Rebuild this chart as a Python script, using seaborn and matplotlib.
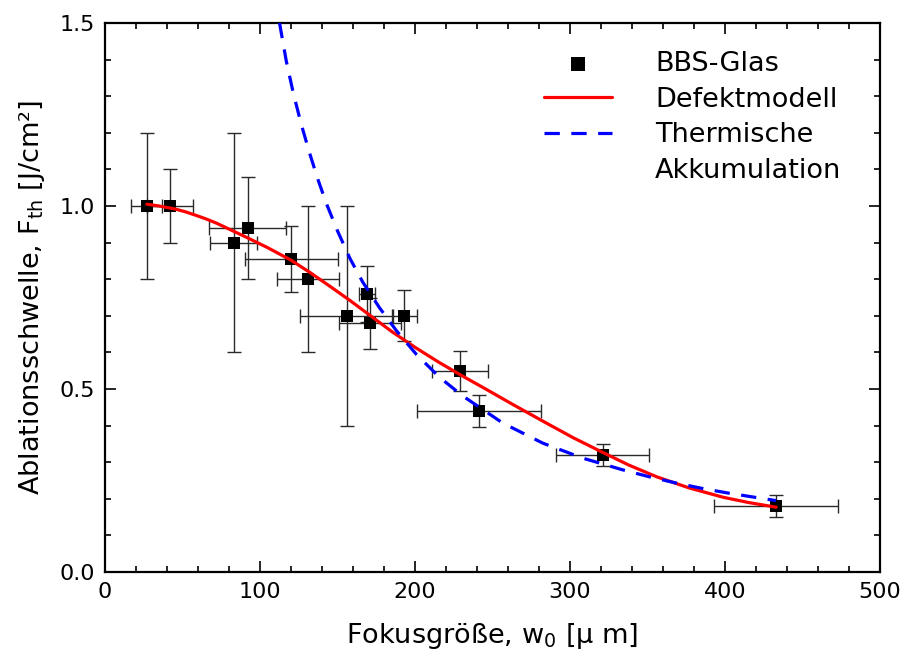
import matplotlib
matplotlib.use("Agg")
import matplotlib.pyplot as plt
from matplotlib.lines import Line2D
import seaborn as sns
import pandas as pd

# Measured ablation thresholds of BBS glass vs. focus radius
w0 = [27, 42, 83, 92, 120, 131, 156, 169, 171, 193, 229, 241, 321, 433]
fth = [1.0, 1.0, 0.90, 0.94, 0.855, 0.80, 0.70, 0.76, 0.68, 0.70, 0.55, 0.44, 0.32, 0.18]
w0_err = [10, 15, 15, 25, 30, 20, 30, 5, 20, 8, 18, 40, 30, 40]
fth_err = [0.2, 0.1, 0.3, 0.14, 0.09, 0.2, 0.3, 0.076, 0.07, 0.07, 0.055, 0.044, 0.03, 0.03]

# Defect model curve
defekt_w = [27, 35, 45, 52, 59, 65, 72, 80, 91, 105, 120, 132, 145, 158, 171, 185,
            200, 215, 230, 246, 263, 283, 302, 321, 338, 356, 377, 399, 415, 433]
defekt_f = [1.005, 1.0, 0.992, 0.984, 0.974, 0.965, 0.953, 0.937, 0.915, 0.886,
            0.852, 0.819, 0.781, 0.742, 0.701, 0.657, 0.614, 0.574, 0.537, 0.499,
            0.458, 0.411, 0.367, 0.327, 0.292, 0.260, 0.2295, 0.204, 0.190, 0.177]

# Thermal accumulation curve
therm_w = [112.6, 117, 121.4, 126.5, 132.1, 137.5, 142.9, 150, 158, 166.3, 177.1,
           187.9, 200.8, 215.8, 230.8, 256.6, 282.5, 308.3, 334.1, 351.3, 368.5,
           385.7, 402.9, 433]
therm_f = [1.5, 1.395, 1.31, 1.225, 1.143, 1.071, 1.006, 0.932, 0.857, 0.792, 0.722,
           0.660, 0.595, 0.532, 0.481, 0.407, 0.352, 0.311, 0.279, 0.260, 0.243,
           0.228, 0.215, 0.195]

x_ticks = [0, 100, 200, 300, 400, 500]
y_ticks = [0.0, 0.5, 1.0, 1.5]
y_tick_labels = ["0.0", "0.5", "1.0", "1.5"]

sns.set_theme(style="ticks")
plt.rcParams["font.family"] = ["DejaVu Sans"]
plt.rcParams["mathtext.default"] = "regular"
plt.rcParams["text.color"] = "black"
plt.rcParams["axes.labelcolor"] = "black"

fig = plt.figure(figsize=(9.06, 6.64), dpi=100)
ax = fig.add_axes([105 / 906, 1 - 572 / 664, 775 / 906, 549 / 664])

pts = pd.DataFrame({"w0": w0, "fth": fth})
defekt = pd.DataFrame({"w0": defekt_w, "fth": defekt_f})
therm = pd.DataFrame({"w0": therm_w, "fth": therm_f})

ax.errorbar(w0, fth, xerr=w0_err, yerr=fth_err, fmt="none", ecolor="#2a2a2a",
            elinewidth=1.0, capsize=5, capthick=1.0, zorder=2)
sns.scatterplot(data=pts, x="w0", y="fth", marker="s", s=66, color="black",
                edgecolor="black", linewidth=0, ax=ax, zorder=3, label="BBS-Glas")
sns.lineplot(data=defekt, x="w0", y="fth", sort=False, estimator=None,
             color="#ff0000", linewidth=2.3, ax=ax, zorder=4, label="Defektmodell")
sns.lineplot(data=therm, x="w0", y="fth", sort=False, estimator=None,
             color="#0000ff", linewidth=2.3, dashes=False, ax=ax, zorder=4,
             label="Thermische")
ax.lines[-1].set_dashes([4.8, 3.6])

ax.set_xlim(0, 500)
ax.set_ylim(0, 1.5)
ax.set_xticks(x_ticks)
ax.set_yticks(y_ticks)
ax.set_yticklabels(y_tick_labels)
ax.set_xticks(range(0, 501, 20), minor=True)
ax.set_yticks([i / 10 for i in range(16)], minor=True)
ax.tick_params(which="both", direction="in", top=True, right=True,
               labelsize=16, colors="black", width=1.2)
ax.tick_params(which="major", length=8, pad=7)
ax.tick_params(which="minor", length=4.3)
for sp in ax.spines.values():
    sp.set_linewidth(1.6)
    sp.set_color("black")

ax.set_xlabel(r"Fokusgröße, w$_0$ [μ m]", fontsize=19.5, labelpad=14)
ax.set_ylabel(r"Ablationsschwelle, F$_{th}$ [J/cm²]", fontsize=19.5, labelpad=9)

# second line of the last legend entry, without a handle of its own
handles, labels = ax.get_legend_handles_labels()
handles.append(Line2D([], [], linestyle="none"))
labels.append("Akkumulation")
ax.legend(handles, labels, loc="upper left",
          bbox_to_anchor=(544 / 906, 1 - 51 / 664),
          bbox_transform=fig.transFigure, frameon=False, fontsize=19.5,
          handlelength=2.5, handletextpad=1.6, labelspacing=0.36,
          borderpad=0, borderaxespad=0, markerscale=1.25)

fig.savefig("out.png", dpi=100)
